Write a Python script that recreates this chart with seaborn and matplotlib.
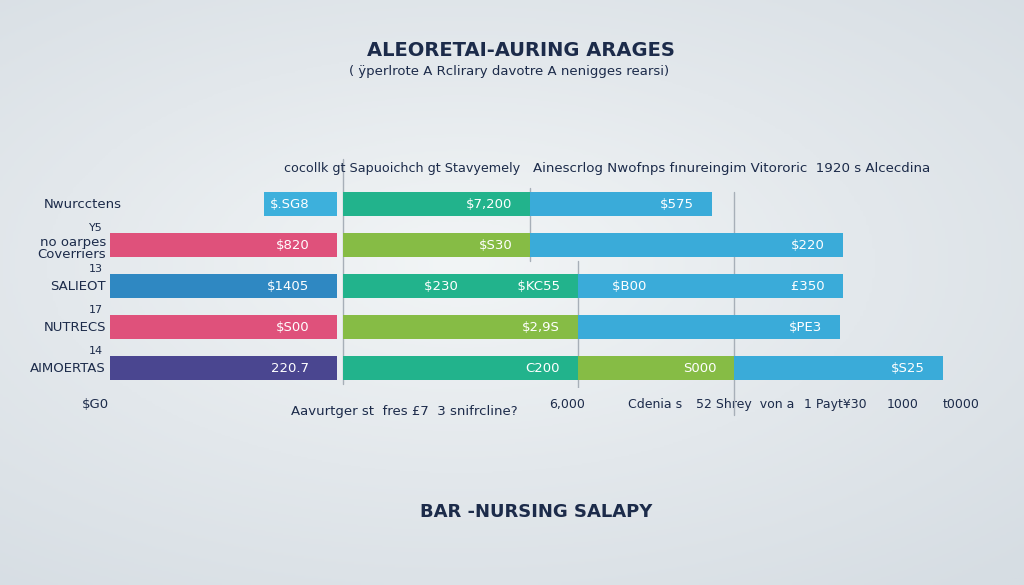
import numpy as np
import pandas as pd
import seaborn as sns
import matplotlib.pyplot as plt

# --- chart data ---
rows = ["Nwurcctens", "no oarpes\nCoverriers", "SALIEOT", "NUTRECS", "AIMOERTAS"]
row_notes = ["", "Y5", "13", "17", "14"]

# left block (bars grow leftwards from the divider)
left_values = [1600, 5000, 5000, 5000, 5000]
left_labels = ["$.SG8", "$820", "$1405", "$S00", "220.7"]
left_colors = ["#3db0dc", "#df517b", "#2f88c2", "#df517b", "#4a4690"]

# right block, stacked segments
seg1_values = [4680, 4680, 5880, 5880, 5880]
seg1_labels = ["$7,200", "$S30", "$230              $KC55", "$2,9S", "C200"]
seg1_colors = ["#22b38c", "#86bc45", "#22b38c", "#86bc45", "#22b38c"]

seg2_values = [4550, 7820, 6620, 6550, 3900]
seg2_labels = ["$575", "$220", "$B00                                  £350", "$PE3", "S000"]
seg2_colors = ["#3aabd9", "#3aabd9", "#3aabd9", "#3aabd9", "#86bc45"]

seg3_values = [0, 0, 0, 0, 5220]
seg3_labels = ["", "", "", "", "$S25"]
seg3_colors = ["#3aabd9"] * 5

tick_values = [5600, 7800, 10050, 12300, 14000, 15450]
tick_labels = ["6,000", "Cdenia s", "52 Shrey  von a", "1 Payt¥30", "1000", "t0000"]

NAVY = "#1c2b4a"
GRID = "#a7afb8"

sns.set_theme(style="white")
plt.rcParams["font.family"] = ["DejaVu Sans"]
plt.rcParams["text.parse_math"] = False

fig = plt.figure(figsize=(10.24, 5.85), dpi=100)

# soft background gradient
bg = fig.add_axes([0, 0, 1, 1], zorder=-10)
yy, xx = np.mgrid[0:1:200j, 0:1:350j]
r = np.sqrt(((xx - 0.45) / 0.9) ** 2 + ((yy - 0.45) / 0.8) ** 2)
bg.imshow(r, cmap=sns.blend_palette(["#f2f5f6", "#e3e8ec", "#d6dde3"], as_cmap=True),
          aspect="auto", extent=[0, 1, 0, 1], vmin=0, vmax=0.9)
bg.axis("off")

df_left = pd.DataFrame({"row": rows, "value": left_values})

# --- left block ---
axL = fig.add_axes([0.1074, 0.3359, 0.2217, 0.3504])
sns.barplot(data=df_left, x="value", y="row", hue="row", palette=left_colors,
            width=0.585, legend=False, ax=axL, saturation=1, linewidth=0)
axL.set_xlim(5000, 0)
axL.set_ylim(4.5, -0.5)
axL.set_facecolor("none")
for s in axL.spines.values():
    s.set_visible(False)
axL.set_xlabel("")
axL.set_ylabel("")
axL.set_xticks([])
axL.set_yticks([])
for i, lab in enumerate(left_labels):
    axL.annotate(lab, (0, i), xytext=(-20, 0), textcoords="offset points",
                 ha="right", va="center", color="white", fontsize=9.5)

# category labels + small notes
for i, (name, note) in enumerate(zip(rows, row_notes)):
    x_px = 122 if i == 0 else 106
    axL.annotate(name, (0, i + (0.08 if i == 1 else 0)),
                 xycoords=("figure fraction", "data"),
                 xytext=(x_px * 0.72, 0), textcoords="offset points",
                 ha="right", va="center", color=NAVY, fontsize=9.5,
                 linespacing=0.95)
    if note:
        axL.annotate(note, (0, i - 0.42), xycoords=("figure fraction", "data"),
                     xytext=(103 * 0.72, 0), textcoords="offset points",
                     ha="right", va="center", color=NAVY, fontsize=8)

# --- right block ---
axR = fig.add_axes([0.3350, 0.3359, 0.6250, 0.3504])
axR.set_facecolor("none")
ypos = np.arange(len(rows))
left = np.zeros(len(rows))
for vals, labs, cols in [(seg1_values, seg1_labels, seg1_colors),
                         (seg2_values, seg2_labels, seg2_colors),
                         (seg3_values, seg3_labels, seg3_colors)]:
    vals = np.array(vals, dtype=float)
    for i in ypos:
        if vals[i] <= 0:
            continue
        axR.barh(i, vals[i], left=left[i], height=0.585, color=cols[i],
                 linewidth=0, zorder=2)
        axR.annotate(labs[i], (left[i] + vals[i], i), xytext=(-13, 0),
                     textcoords="offset points", ha="right", va="center",
                     color="white", fontsize=9.5, zorder=3)
    left += vals

axR.set_xlim(0, 16000)
axR.set_ylim(4.5, -0.5)
for s in axR.spines.values():
    s.set_visible(False)
axR.set_yticks([])
axR.set_xticks(tick_values)
axR.set_xticklabels(tick_labels, fontsize=9, color=NAVY)
axR.tick_params(axis="x", length=0, pad=7)

# thin divider lines at segment boundaries
c1 = seg1_values[0]
c2 = seg1_values[2]
c3 = seg1_values[4] + seg2_values[4]
axR.axvline(0, ymin=0.02, ymax=1.12, color=GRID, lw=1, zorder=1, clip_on=False)
axR.axvline(c1, ymin=0.62, ymax=0.98, color=GRID, lw=1, zorder=1)
axR.axvline(c2, ymin=0.0, ymax=0.62, color=GRID, lw=1, zorder=1)
axR.axvline(c3, ymin=-0.13, ymax=0.96, color=GRID, lw=1, zorder=1, clip_on=False)

# --- texts ---
fig.text(0.509, 0.914, "ALEORETAI-AURING ARAGES", ha="center", va="center",
         fontsize=14, fontweight="bold", color=NAVY)
fig.text(0.497, 0.877, "( ÿperlrote A Rclirary davotre A nenigges rearsi)",
         ha="center", va="center", fontsize=9.5, color=NAVY)
fig.text(520 / 1024, 0.712, "cocollk gt Sapuoichch gt Stavyemely", ha="right",
         va="center", fontsize=9.2, color=NAVY)
fig.text(533 / 1024, 0.712, "Ainescrlog Nwofnps fınureingim Vitororic  1920 s Alcecdina",
         ha="left", va="center", fontsize=9.6, color=NAVY)
fig.text(0.093, 0.309, "$G0", ha="center", va="center", fontsize=9.5, color=NAVY)
fig.text(0.395, 0.296, "Aavurtger st  fres £7  3 snifrcline?", ha="center",
         va="center", fontsize=9.5, color=NAVY)
fig.text(0.524, 0.124, "BAR -NURSING SALAPY", ha="center", va="center",
         fontsize=13, fontweight="bold", color=NAVY)

fig.savefig("out.png", dpi=100)
